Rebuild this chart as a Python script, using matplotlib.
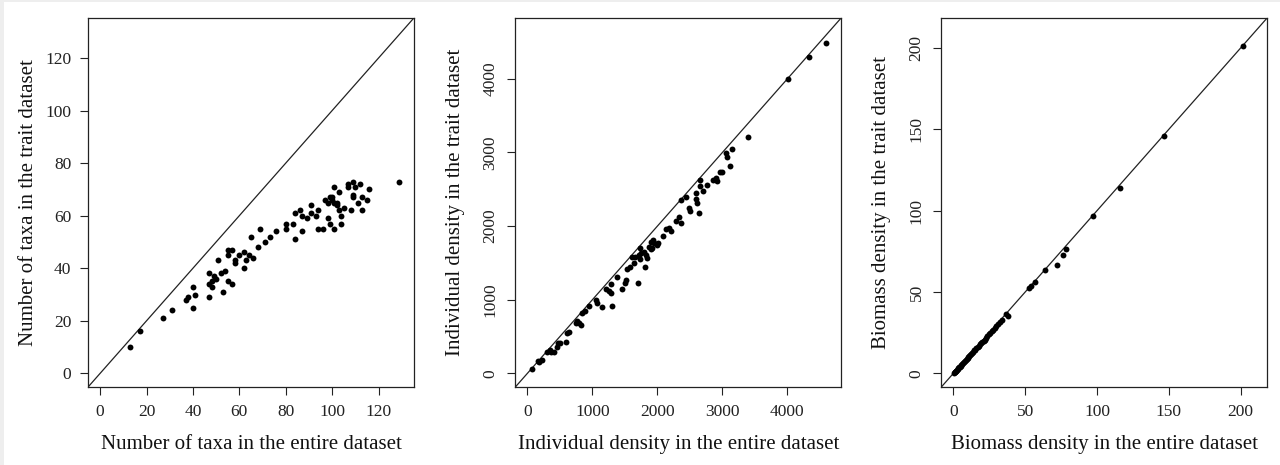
import matplotlib
matplotlib.use("Agg")
import matplotlib.pyplot as plt
from matplotlib.patches import Rectangle

# panel 1: number of taxa
taxa_entire = [13, 17, 27, 31, 37, 38, 40, 40, 41, 47, 47, 47, 48, 48, 49, 50, 51, 52,
               53, 54, 55, 55, 57, 55, 57, 58, 58, 60, 62, 62, 63, 64, 66, 65, 68, 69,
               71, 73, 76, 80, 80, 83, 84, 84, 86, 87, 87, 89, 91, 91, 93, 94, 94, 96,
               97, 98, 98, 99, 99, 100, 101, 101, 101, 102, 103, 103, 104, 104, 105, 107,
               107, 108, 109, 110, 109, 109, 111, 113, 112, 113, 115, 116, 129, 100, 102]
taxa_trait = [10, 16, 21, 24, 28, 29, 33, 25, 30, 29, 34, 38, 35, 33, 37, 36, 43, 38,
              31, 39, 35, 47, 47, 45, 34, 42, 43, 45, 46, 40, 43, 45, 44, 52, 48, 55,
              50, 52, 54, 55, 57, 57, 51, 61, 62, 54, 60, 59, 64, 61, 60, 62, 55, 55,
              66, 65, 59, 67, 57, 66, 71, 65, 55, 64, 69, 62, 57, 60, 63, 71, 72, 62,
              73, 71, 68, 67, 65, 62, 72, 67, 66, 70, 73, 67, 65]

# panel 2: individual density
ind_entire = [77, 164, 180, 220, 308, 344, 369, 410, 462, 472, 497, 590, 605, 641,
              744, 769, 795, 821, 846, 882, 949, 1051, 1077, 1154, 1205, 1256, 1282,
              1292, 1308, 1385, 1462, 1497, 1513, 1538, 1579, 1605, 1641, 1651, 1703,
              1718, 1733, 1733, 1754, 1795, 1810, 1820, 1846, 1872, 1897, 1908, 1923,
              1938, 1949, 1990, 2015, 2087, 2128, 2179, 2205, 2282, 2333, 2369, 2369,
              2436, 2487, 2497, 2600, 2600, 2615, 2641, 2651, 2656, 2708, 2759, 2862,
              2897, 2913, 2964, 3000, 3051, 3067, 3118, 3154, 3395, 4010, 4338, 4595]
ind_trait = [59, 168, 159, 181, 285, 317, 294, 285, 362, 408, 408, 430, 544, 566,
             689, 716, 680, 657, 815, 852, 915, 997, 960, 906, 1142, 1123, 1214,
             1087, 915, 1305, 1142, 1232, 1268, 1413, 1441, 1585, 1495, 1585, 1232,
             1608, 1699, 1549, 1631, 1653, 1450, 1608, 1563, 1721, 1789, 1685, 1699,
             1812, 1767, 1744, 1767, 1866, 1957, 1971, 1939, 2075, 2129, 2048, 2356,
             2392, 2242, 2211, 2365, 2446, 2319, 2183, 2627, 2546, 2483, 2559, 2627,
             2650, 2614, 2741, 2741, 2999, 2944, 2818, 3049, 3216, 3995, 4303, 4485]

# panel 3: biomass density
bio_entire = [0.5, 0.8, 1.2, 1.6, 2.0, 2.5, 3.0, 3.4, 4.0, 4.5, 5.1, 5.6, 6.2, 6.8,
              7.3, 8.0, 8.6, 9.2, 9.9, 10.5, 11.2, 11.8, 12.5, 13.2, 13.9, 14.6,
              15.3, 16.0, 16.8, 17.6, 18.4, 19.3, 20.2, 21.0, 21.8, 22.8, 23.7,
              24.6, 25.6, 26.6, 27.7, 28.8, 30.0, 31.2, 32.5, 34.0, 36.3, 38.0,
              52.6, 54.0, 56.5, 63.7, 71.9, 76.3, 78.1, 97.2, 116.3, 146.5, 201.5]
bio_trait = [0.4, 0.6, 1.0, 1.5, 1.7, 2.3, 2.6, 3.2, 3.6, 4.1, 4.6, 5.3, 5.7, 6.5,
             6.9, 7.6, 8.2, 8.9, 9.3, 10.1, 10.7, 11.3, 12.0, 12.6, 13.2, 14.1,
             14.5, 15.3, 16.2, 16.9, 17.8, 18.4, 19.4, 20.0, 20.7, 22.0, 22.8,
             23.9, 24.5, 25.8, 26.6, 28.1, 29.0, 30.6, 31.5, 33.0, 36.7, 35.1,
             52.7, 53.5, 56.1, 63.7, 66.3, 73.0, 76.5, 96.9, 113.7, 145.9, 201.0]

panels = [
    (taxa_entire, taxa_trait, (-5.2, 135.2), list(range(0, 121, 20)),
     "Number of taxa in the entire dataset", "Number of taxa in the trait dataset", 0),
    (ind_entire, ind_trait, (-186, 4826), list(range(0, 4001, 1000)),
     "Individual density in the entire dataset", "Individual density in the trait dataset", 90),
    (bio_entire, bio_trait, (-8.4, 218.4), list(range(0, 201, 50)),
     "Biomass density in the entire dataset", "Biomass density in the trait dataset", 90),
]

plt.rcParams['font.family'] = ['Liberation Serif', 'DejaVu Serif']
fig = plt.figure(figsize=(12.8, 4.65), dpi=100, facecolor='#eeeeee')
fig.patches.append(Rectangle((4 / 1280, 0), 1276 / 1280, 463 / 465,
                             transform=fig.transFigure, facecolor='white',
                             edgecolor='none', zorder=-10))

lefts = [0.0688, 0.4026, 0.7354]
for left, (xe, yt, lim, ticks, xlab, ylab, yrot) in zip(lefts, panels):
    ax = fig.add_axes([left, 0.1677, 0.2545, 0.7935])
    ax.patch.set_alpha(0)
    ax.scatter(xe, yt, s=18, c='black', linewidths=0, zorder=3)
    ax.axline((0, 0), slope=1, color='#222222', lw=0.9)
    ax.set_xlim(lim)
    ax.set_ylim(lim)
    ax.set_xticks(ticks)
    ax.set_yticks(ticks)
    ax.tick_params(direction='out', length=6, width=0.8, labelsize=12.5,
                   colors='#222222', pad=6)
    if yrot:
        ax.tick_params(axis='y', labelrotation=90)
        for lbl in ax.get_yticklabels():
            lbl.set_va('center')
    for sp in ax.spines.values():
        sp.set_linewidth(0.9)
        sp.set_color('#222222')
    ax.set_xlabel(xlab, fontsize=15, color='#111111', va='center')
    ax.set_ylabel(ylab, fontsize=15, color='#111111', va='center')
    ax.xaxis.set_label_coords(0.5, -0.155)
    ax.yaxis.set_label_coords(-0.183, 0.5)

fig.savefig("out.png", dpi=100, facecolor=fig.get_facecolor())
